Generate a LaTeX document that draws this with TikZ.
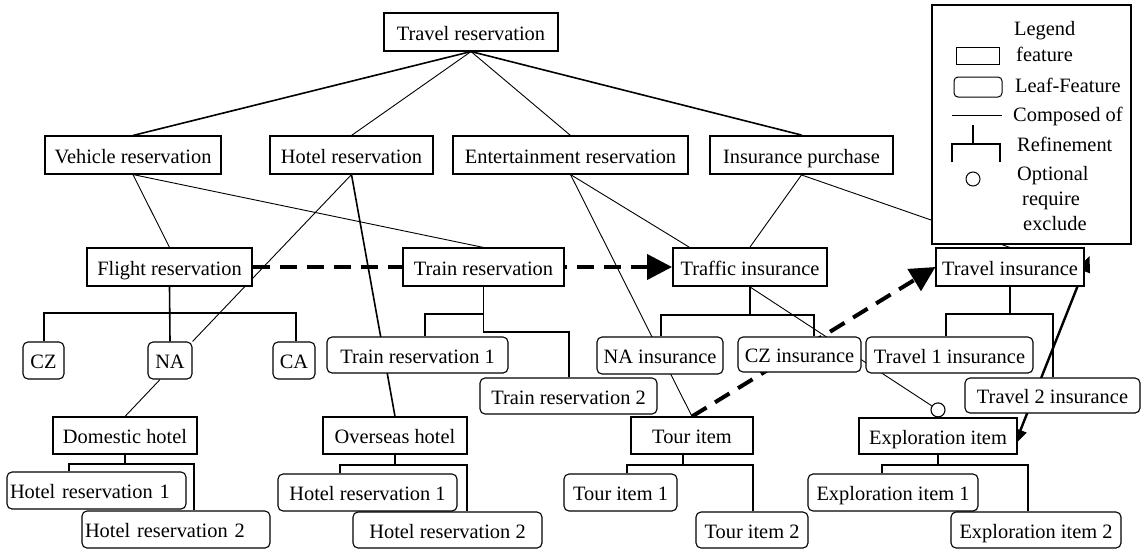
\documentclass[tikz,border=0pt]{standalone}
\usepackage{fontspec}
\setmainfont{Liberation Serif}
\usetikzlibrary{arrows.meta}
\pgfdeclarelayer{bottom}
\pgfdeclarelayer{bg}
\pgfsetlayers{bottom,bg,main}
\begin{document}
\begin{tikzpicture}[x=1pt,y=-1pt,font=\fontsize{20.4pt}{24pt}\selectfont,
 feat/.style={draw,line width=1.1pt,fill=white,inner sep=0pt,text height=20pt,text depth=4pt},
 featthick/.style={feat,line width=1.9pt},
 leaf/.style={feat,rounded corners=5pt},
 leafleft/.style={leaf,inner xsep=3pt,align=left},
 conn/.style={line width=0.9pt},
 connthick/.style={line width=1.6pt},
 refl/.style={line width=1.1pt},
 reqarrow/.style={line width=4pt,dash pattern=on 17pt off 10pt,-{Triangle[length=25pt,width=25pt]}},
 exarrow/.style={line width=2.4pt,{Triangle[length=16pt,width=13pt]}-{Triangle[length=16pt,width=13pt]}},
 lgtext/.style={anchor=west,inner sep=0pt,text height=20pt,text depth=4pt}
]
\begin{pgfonlayer}{bottom}
\fill[white] (0,0) rectangle (1147,549);
\end{pgfonlayer}
\useasboundingbox (0,0) rectangle (1147,549);

% feature nodes
\node[feat,minimum width=174pt,minimum height=38pt] (tr) at (471,32) {Travel reservation};
\node[feat,minimum width=176pt,minimum height=38pt] (vr) at (133,155) {Vehicle reservation};
\node[feat,minimum width=163pt,minimum height=38pt] (hr) at (351.5,155) {Hotel reservation};
\node[feat,minimum width=235pt,minimum height=38pt] (er) at (570.5,155) {Entertainment reservation};
\node[featthick,minimum width=183pt,minimum height=38pt] (ip) at (801.5,155) {Insurance purchase};
\node[feat,minimum width=165pt,minimum height=38pt] (fr) at (169.5,267) {Flight reservation};
\node[feat,minimum width=161pt,minimum height=38pt] (trr) at (483.5,267) {Train reservation};
\node[featthick,minimum width=154pt,minimum height=38pt] (ti) at (750,267) {Traffic insurance};
\node[feat,minimum width=148pt,minimum height=38pt] (tvi) at (1010,267) {Travel insurance};
\node[feat,minimum width=144pt,minimum height=37pt] (dh) at (125,435.5) {Domestic hotel};
\node[feat,minimum width=144pt,minimum height=37pt] (oh) at (395,435.5) {Overseas hotel};
\node[feat,minimum width=122pt,minimum height=37pt] (tour) at (692,435.5) {Tour item};
\node[feat,minimum width=158pt,minimum height=36pt] (ex) at (938,436) {Exploration item};

% leaf features
\node[leaf,minimum width=41pt,minimum height=37pt] (cz) at (43.5,360.5) {CZ};
\node[leaf,minimum width=44pt,minimum height=37pt] (na) at (170,360.5) {NA};
\node[leaf,minimum width=42pt,minimum height=37pt] (ca) at (294,360.5) {CA};
\node[leaf,minimum width=181pt,minimum height=36pt] (tr1) at (417.5,355) {Train reservation 1};
\node[leaf,minimum width=177pt,minimum height=36pt] (tr2) at (568.5,396) {Train reservation 2};
\node[leaf,minimum width=126pt,minimum height=37pt] (nai) at (660,355.5) {NA insurance};
\node[leaf,minimum width=123pt,minimum height=35pt] (czi) at (799.5,354.5) {CZ insurance};
\node[leaf,minimum width=167pt,minimum height=36pt] (t1i) at (949.5,355) {Travel 1 insurance};
\node[leaf,minimum width=175pt,minimum height=35pt] (t2i) at (1052.5,395.5) {Travel 2 insurance};
\node[leafleft,text width=173pt,minimum height=37pt] (h1) at (96.5,490.5) {Hotel reservation 1};
\node[leafleft,text width=182pt,minimum height=37pt] (h2) at (176,529.5) {Hotel reservation 2};
\node[leaf,minimum width=179pt,minimum height=37pt] (h1b) at (367.5,492.5) {Hotel reservation 1};
\node[leaf,minimum width=189pt,minimum height=36pt] (h2b) at (447.5,530) {Hotel reservation 2};
\node[leaf,minimum width=113pt,minimum height=37pt] (tour1) at (620.5,492.5) {Tour item 1};
\node[leaf,minimum width=112pt,minimum height=36pt] (tour2) at (752,530) {Tour item 2};
\node[leaf,minimum width=170pt,minimum height=37pt] (ex1) at (893,492.5) {Exploration item 1};
\node[leaf,minimum width=170pt,minimum height=36pt] (ex2) at (1036,530) {Exploration item 2};

\node[draw,circle,fill=white,line width=1.1pt,minimum size=14pt,inner sep=0pt,anchor=south] (opt) at (ex.north) {};

\begin{pgfonlayer}{bg}
% composed-of connectors
\draw[connthick] (tr.south) -- (vr.north);
\draw[conn] (tr.south) -- (hr.north);
\draw[conn] (tr.south) -- (er.north);
\draw[connthick] (tr.south) -- (ip.north);
\draw[conn] (vr.south) -- (fr.north);
\draw[conn] (vr.south) -- (trr.north);
\draw[conn] (hr.south) -- (na.north east);
\draw[connthick] (hr.south) -- (oh.north);
\draw[conn] (er.south) -- ([xshift=17pt]ti.north west);
\draw[conn] (er.south) -- (tour.north);
\draw[conn] (ip.south) -- (ti.north);
\draw[conn] (ip.south) -- (tvi.north);
\draw[conn] ([xshift=-10pt]na.south) -- (dh.north);
\draw[conn] (ti.south) -- (opt);

% refinements
\draw[connthick] (fr.south) -- (na.north);
\draw[refl] (44,0 |- cz.north) |- (296,313) -- (296,0 |- ca.north);
\draw[refl] (trr.south) |- (569,332) -- (569,0 |- tr2.north);
\draw[refl] (425,0 |- tr1.north) |- (trr.south |- 0,314);
\draw[refl] (dh.south) -- (dh.south |- 0,464);
\draw[refl] (69,0 |- h1.north) |- (194,464) -- (194,0 |- h2.north);
\draw[refl] (oh.south) -- (oh.south |- 0,465);
\draw[refl] (340,0 |- h1b.north) |- (467,465) -- (467,0 |- h2b.north);
\draw[refl] ([xshift=-9pt]tour.south) -- ++(0,11);
\draw[refl] (627,0 |- tour1.north) |- (753,465) -- (753,0 |- tour2.north);
\draw[refl] (ti.south) -- (ti.south |- 0,315);
\draw[refl] (661,0 |- nai.north) |- (814,315) -- (814,0 |- czi.north);
\draw[refl] (tvi.south) -- (tvi.south |- 0,314);
\draw[refl] (946,0 |- t1i.north) |- (1053,314) -- (1053,0 |- t2i.north);
\draw[refl] (ex.south) -- (ex.south |- 0,465);
\draw[refl] (882,0 |- ex1.north) |- (1028,465) -- (1028,0 |- ex2.north);

% require / exclude
\draw[reqarrow] (fr.east) -- (ti.west);
\draw[reqarrow] (tour.north) -- (tvi.west);
\draw[exarrow] ([xshift=-3pt,yshift=-9pt]ex.east) -- ([xshift=5pt,yshift=11pt]tvi.east);
\end{pgfonlayer}

% legend
\node[draw,fill=white,line width=1.1pt,minimum width=199pt,minimum height=239pt,inner sep=0pt] (legend) at (1031.5,124.5) {};
\node[lgtext] (lgtitle) at (1014,27) {Legend};
\node[draw,line width=1pt,minimum width=43pt,minimum height=17pt,inner sep=0pt] (lgfeat) at (977.5,55.5) {};
\node[lgtext] (lgfeattxt) at (1016,53.7) {feature};
\node[draw,rounded corners=4pt,line width=1pt,minimum width=48pt,minimum height=20pt,inner sep=0pt] (lgleaf) at (978,87) {};
\node[lgtext] (lgleaftxt) at (1015,84.7) {Leaf-Feature};
\coordinate (lgc1) at (952,115);
\coordinate (lgc2) at (1002,115);
\draw[conn] (lgc1) -- (lgc2);
\node[lgtext] (lgcomptxt) at (1013,113.7) {Composed of};
\coordinate (lgr1) at (973,125);
\coordinate (lgr2) at (973,144);
\coordinate (lgr3) at (952,162);
\coordinate (lgr4) at (1000,162);
\draw[refl] (lgr1) -- (lgr2);
\draw[refl] (lgr3) |- (lgr2) -| (lgr4);
\node[lgtext] (lgreftxt) at (1017,143.7) {Refinement};
\node[draw,circle,line width=1pt,minimum size=14pt,inner sep=0pt] (lgopt) at (973,179) {};
\node[lgtext] (lgopttxt) at (1017,172) {Optional};
\node[lgtext] (lgreqtxt) at (1022,197) {require};
\node[lgtext] (lgexctxt) at (1023,222.7) {exclude};
\end{tikzpicture}
\end{document}
